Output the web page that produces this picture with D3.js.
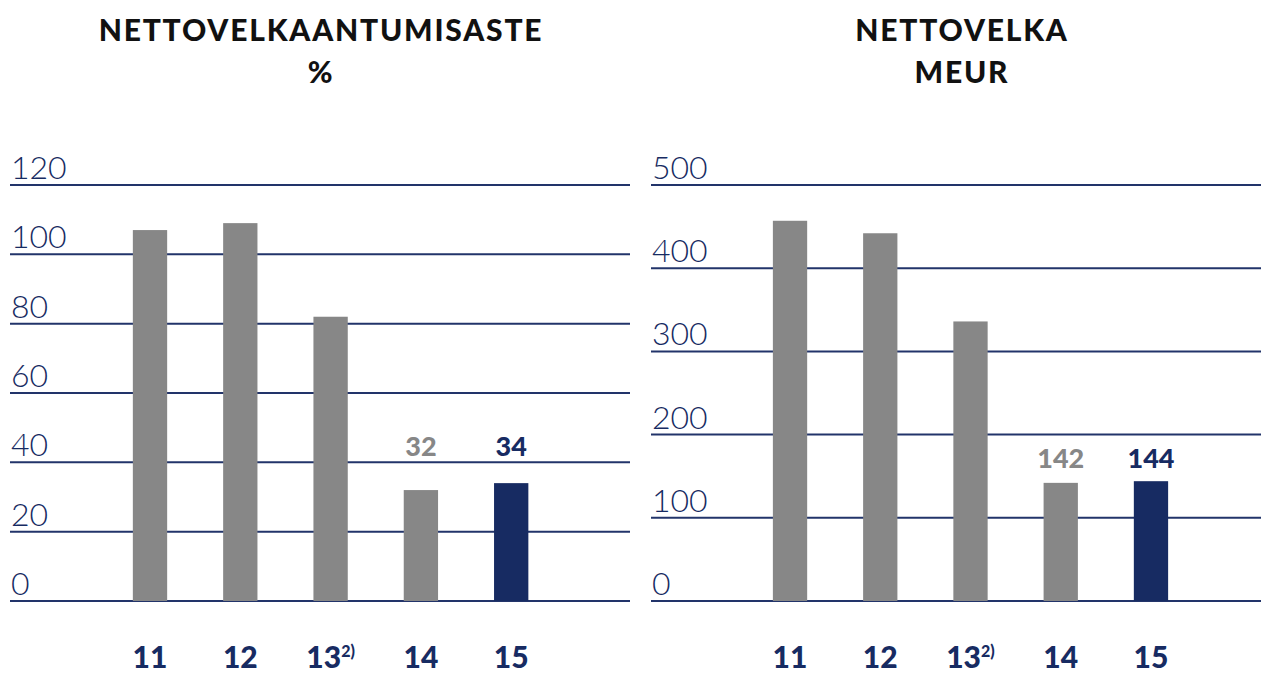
<!DOCTYPE html>
<html><head><meta charset="utf-8">
<script src="https://cdn.jsdelivr.net/npm/d3@7/dist/d3.min.js"></script>
<style>
html,body{margin:0;padding:0;background:#fff;}
svg{display:block;}
</style></head>
<body>
<svg id="c" width="1261" height="675"></svg>
<script>
const categories = ["11", "12", "13", "14", "15"];
const categorySup = ["", "", "2)", "", ""];
const gearingValues = [107, 109, 82, 32, 34];
const netDebtValues = [457, 442, 336, 142, 144];
const gearingTicks = [0, 20, 40, 60, 80, 100, 120];
const netDebtTicks = [0, 100, 200, 300, 400, 500];
const labeledIndex = [3, 4];
const titles = [["NETTOVELKAANTUMISASTE", "%"], ["NETTOVELKA", "MEUR"]];

const svg = d3.select("#c");
const NAVY = "#172b62", GRAY = "#878787", LINE = "#22346a";

function panel(opt) {
  const g = svg.append("g");
  const y = d3.scaleLinear().domain([0, opt.max]).range([601, 185]);
  const x = d3.scaleBand().domain(categories).range(opt.xr).paddingInner(0.62).paddingOuter(0.31);
  // title
  g.selectAll("text.title").data(opt.title).join("text")
    .attr("x", opt.tx).attr("y", (d, i) => 41 + i * 42).attr("text-anchor", "middle")
    .attr("font-family", "Lato").attr("font-weight", 900).attr("font-size", 30)
    .attr("letter-spacing", 1.8)
    .attr("fill", "#111").text(d => d);
  // gridlines
  g.selectAll("line.grid").data(opt.ticks).join("line")
    .attr("x1", opt.gx[0]).attr("x2", opt.gx[1])
    .attr("y1", d => y(d)).attr("y2", d => y(d))
    .attr("stroke", LINE).attr("stroke-width", 2);
  g.selectAll("text.tick").data(opt.ticks).join("text")
    .attr("x", opt.gx[0] + 1).attr("y", d => y(d) - 6)
    .attr("font-family", "Lato").attr("font-weight", 300).attr("font-size", 32)
    .attr("fill", NAVY).text(d => d);
  // bars
  g.selectAll("rect").data(opt.values).join("rect")
    .attr("x", (d, i) => x(categories[i])).attr("width", x.bandwidth())
    .attr("y", d => y(d)).attr("height", d => y(0) - y(d))
    .attr("fill", (d, i) => i === categories.length - 1 ? NAVY : GRAY);
  // value labels
  const maxLab = d3.max(labeledIndex, i => opt.values[i]);
  g.selectAll("text.val").data(labeledIndex).join("text")
    .attr("x", i => x(categories[i]) + x.bandwidth() / 2)
    .attr("y", y(maxLab) - opt.labOff)
    .attr("text-anchor", "middle")
    .attr("font-family", "Lato").attr("font-weight", 900).attr("font-size", 27)
    .attr("fill", i => i === categories.length - 1 ? NAVY : GRAY)
    .text(i => opt.values[i]);
  // x labels
  const xl = g.selectAll("text.xl").data(categories).join("text")
    .attr("x", d => x(d) + x.bandwidth() / 2)
    .attr("y", 668).attr("text-anchor", "middle")
    .attr("font-family", "Lato").attr("font-weight", 900).attr("font-size", 30)
    .attr("fill", NAVY);
  xl.append("tspan").text(d => d);
  xl.filter((d, i) => categorySup[i]).append("tspan")
    .attr("font-size", 16).attr("dy", -11).text((d) => categorySup[categories.indexOf(d)]);
}

panel({max: 120, ticks: gearingTicks, values: gearingValues, xr: [104.85, 556.35], gx: [10, 630], tx: 321, title: titles[0], labOff: 27});
panel({max: 500, ticks: netDebtTicks, values: netDebtValues, xr: [744.9, 1196.1], gx: [651, 1261], tx: 962, title: titles[1], labOff: 13});
</script>
</body></html>
